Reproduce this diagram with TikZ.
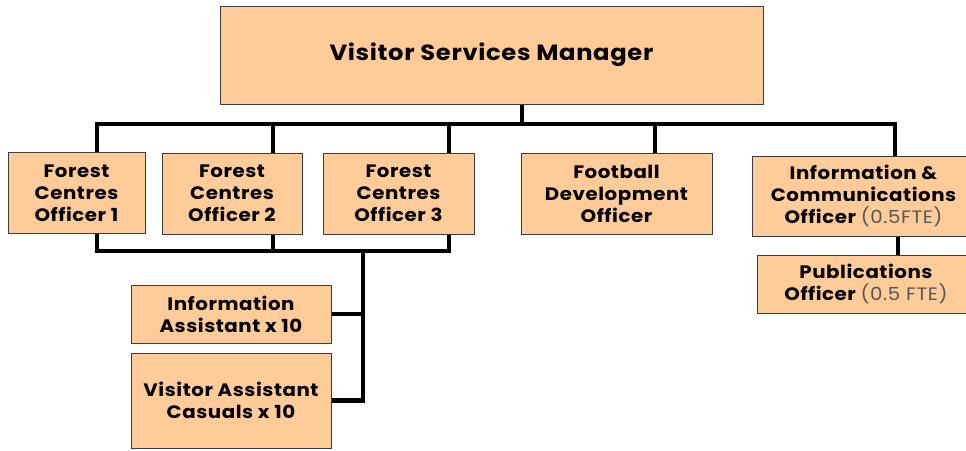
\documentclass[tikz,border=0pt]{standalone}
\usepackage{fontspec}
\setmainfont{Poppins}[FakeStretch=1.1, LetterSpace=3]
\definecolor{boxfill}{RGB}{255,204,153}
\definecolor{boxline}{RGB}{60,60,60}
\definecolor{ftegray}{RGB}{85,85,85}
\tikzset{post/.style={rectangle, draw=boxline, fill=boxfill, line width=1pt, inner sep=0pt, align=center, font=\bfseries\fontsize{18}{22}\selectfont}}
\tikzset{link/.style={line width=4.5pt, line join=miter}}
\newcommand{\fte}[1]{{\mdseries\color{ftegray}#1}}

\begin{document}
\begin{tikzpicture}[x=1pt,y=-1pt]
  \useasboundingbox (0,0) rectangle (966,450);
  \fill[white] (0,0) rectangle (966,450);
  \clip (0,0) rectangle (966,450);
  % posts
  \node[post, minimum width=543, minimum height=98, font=\bfseries\fontsize{22}{28}\selectfont] (mgr) at (491.5,55) {Visitor Services Manager};
  \node[post, minimum width=137, minimum height=81] (fco1) at (76.5,193) {Forest\\Centres\\Officer 1};
  \node[post, minimum width=140, minimum height=81] (fco2) at (232,193.5) {Forest\\Centres\\Officer 2};
  \node[post, minimum width=151, minimum height=81] (fco3) at (398.5,193.5) {Forest\\Centres\\Officer 3};
  \node[post, minimum width=191, minimum height=81] (football) at (616.5,193.5) {Football\\Development\\Officer};
  \node[post, minimum width=223, minimum height=80] (icomm) at (863.5,196) {Information \&\\Communications\\Officer \fte{(0.5FTE)}};
  \node[post, minimum width=218, minimum height=58] (pub) at (866,284) {Publications\\Officer \fte{(0.5 FTE)}};
  \node[post, minimum width=200, minimum height=58] (infoa) at (231,314) {Information\\Assistant x 10};
  \node[post, minimum width=200, minimum height=95] (vac) at (231,400.5) {Visitor Assistant\\Casuals x 10};
  % bus points
  \coordinate (hub) at (522,124);
  \coordinate (d1) at (97,124);
  \coordinate (d2) at (273,124);
  \coordinate (d3) at (449,124);
  \coordinate (d4) at (655,124);
  \coordinate (d5) at (895,124);
  \coordinate (base) at (363,251);
  \coordinate (p1) at (898,0);
  % links
  \draw[link] (mgr.south -| hub) -- (hub);
  \draw[link] (fco1.north -| d1) -- (d1) -- (d5) -- (icomm.north -| d5);
  \foreach \n/\d in {fco2/d2, fco3/d3, football/d4}{
    \draw[link] (\d) -- (\n.north -| \d);
  }
  \draw[link] (fco1.south -| d1) -- (d1 |- base) -- (d3 |- base) -- (fco3.south -| d3);
  \draw[link] (fco2.south -| d2) -- (d2 |- base);
  \draw[link] (base) |- (vac.east);
  \draw[link] (infoa.east) -- (infoa.east -| base);
  \draw[link] (icomm.south -| p1) -- (pub.north -| p1);
\end{tikzpicture}
\end{document}
